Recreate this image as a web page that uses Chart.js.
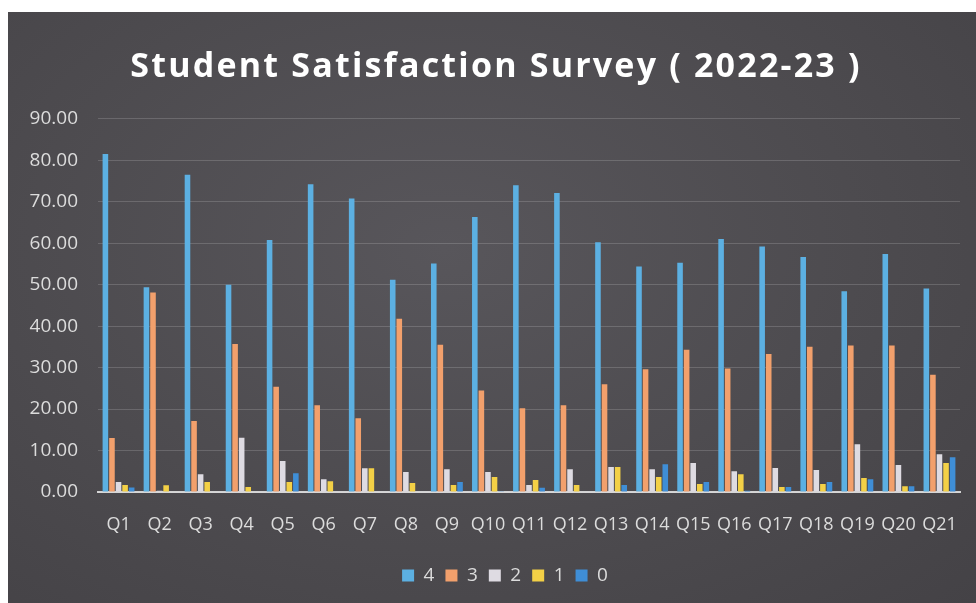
<!DOCTYPE html>
<html>
<head>
<meta charset="utf-8">
<title>Student Satisfaction Survey</title>
<script src="https://cdn.jsdelivr.net/npm/chart.js@4/dist/chart.umd.min.js"></script>
<style>
  html, body { margin: 0; padding: 0; background: #fff; }
  #wrap {
    position: absolute; left: 8px; top: 12px; width: 968px; height: 591px;
    background: radial-gradient(ellipse at 45% 40%, #58565b 0%, #4d4b4f 55%, #444246 100%);
  }
</style>
</head>
<body>
<div id="wrap"><canvas id="chart" width="968" height="591"></canvas></div>
<script>
const questions = ["Q1","Q2","Q3","Q4","Q5","Q6","Q7","Q8","Q9","Q10","Q11","Q12","Q13","Q14","Q15","Q16","Q17","Q18","Q19","Q20","Q21"];
const yTicks = [0, 10, 20, 30, 40, 50, 60, 70, 80, 90];

// percentage of students giving each rating
const rating4 = [81.5, 49.4, 76.5, 50.0, 60.8, 74.2, 70.8, 51.2, 55.1, 66.3, 74.0, 72.1, 60.2, 54.4, 55.3, 61.0, 59.2, 56.7, 48.4, 57.4, 49.1];
const rating3 = [13.0, 48.1, 17.1, 35.7, 25.4, 20.9, 17.8, 41.8, 35.5, 24.5, 20.2, 20.9, 26.0, 29.6, 34.3, 29.8, 33.3, 35.0, 35.3, 35.3, 28.3];
const rating2 = [2.4, 0.3, 4.3, 13.1, 7.5, 3.1, 5.7, 4.8, 5.5, 4.8, 1.7, 5.5, 6.0, 5.5, 7.0, 5.0, 5.8, 5.3, 11.5, 6.5, 9.1];
const rating1 = [1.7, 1.6, 2.4, 1.2, 2.4, 2.6, 5.7, 2.2, 1.7, 3.6, 2.9, 1.7, 6.0, 3.6, 1.9, 4.3, 1.2, 1.9, 3.4, 1.4, 7.0];
const rating0 = [1.1, 0.0, 0.0, 0.0, 4.5, 0.0, 0.0, 0.0, 2.4, 0.2, 1.0, 0.0, 1.7, 6.7, 2.4, 0.3, 1.2, 2.4, 3.1, 1.4, 8.4];

const textColor = "#dcdcdc";

// nudge the legend a little to the right, as in the original
const legendShift = {
  id: "legendShift",
  afterLayout(chart) {
    chart.legend.left += 16;
    chart.legend.right += 16;
  },
};

const ctx = document.getElementById("chart").getContext("2d");
const chart = new Chart(ctx, {
  type: "bar",
  data: {
    labels: questions,
    datasets: [
      { label: "4", data: rating4, backgroundColor: "#5cb0e2" },
      { label: "3", data: rating3, backgroundColor: "#f2a06c" },
      { label: "2", data: rating2, backgroundColor: "#dedbe2" },
      { label: "1", data: rating1, backgroundColor: "#f3d046" },
      { label: "0", data: rating0, backgroundColor: "#3f8ed6" },
    ],
  },
  plugins: [legendShift],
  options: {
    responsive: false,
    animation: false,
    datasets: { bar: { categoryPercentage: 0.8, barPercentage: 0.85 } },
    layout: { padding: { left: 10, right: 16, top: 0, bottom: 8 } },
    plugins: {
      title: {
        display: true,
        text: "Student Satisfaction Survey ( 2022-23 )",
        color: "#ffffff",
        font: { family: "Open Sans", size: 34, weight: "bold" },
        padding: { top: 35, bottom: 31 },
      },
      legend: {
        position: "bottom",
        labels: {
          color: textColor,
          font: { family: "Open Sans", size: 19 },
          boxWidth: 12,
          boxHeight: 12,
          padding: 11,
        },
      },
      tooltip: { enabled: false },
    },
    scales: {
      x: {
        grid: { display: false },
        border: { color: "rgba(235,235,235,0.85)", width: 2 },
        afterFit: (axis) => {
          axis.height = 63;
        },
        ticks: {
          color: textColor,
          font: { family: "Open Sans", size: 18 },
          autoSkip: false,
          maxRotation: 0,
          padding: 14,
        },
      },
      y: {
        min: 0,
        max: 90,
        afterBuildTicks: (axis) => {
          axis.ticks = yTicks.map((v) => ({ value: v }));
        },
        afterFit: (axis) => {
          axis.width = 80;
        },
        border: { display: false },
        grid: {
          color: "rgba(255,255,255,0.16)",
          drawTicks: false,
        },
        ticks: {
          color: textColor,
          font: { family: "Open Sans", size: 19 },
          padding: 20,
          callback: (v) => Number(v).toFixed(2),
        },
      },
    },
  },
});

// wider letter spacing for the title only, shifted slightly right
const titleBox = chart.titleBlock;
const drawTitle = titleBox.draw.bind(titleBox);
titleBox.draw = function () {
  const c = this.ctx;
  c.save();
  c.translate(7, 0);
  c.letterSpacing = "2.2px";
  drawTitle();
  c.restore();
};
chart.draw();
</script>
</body>
</html>
